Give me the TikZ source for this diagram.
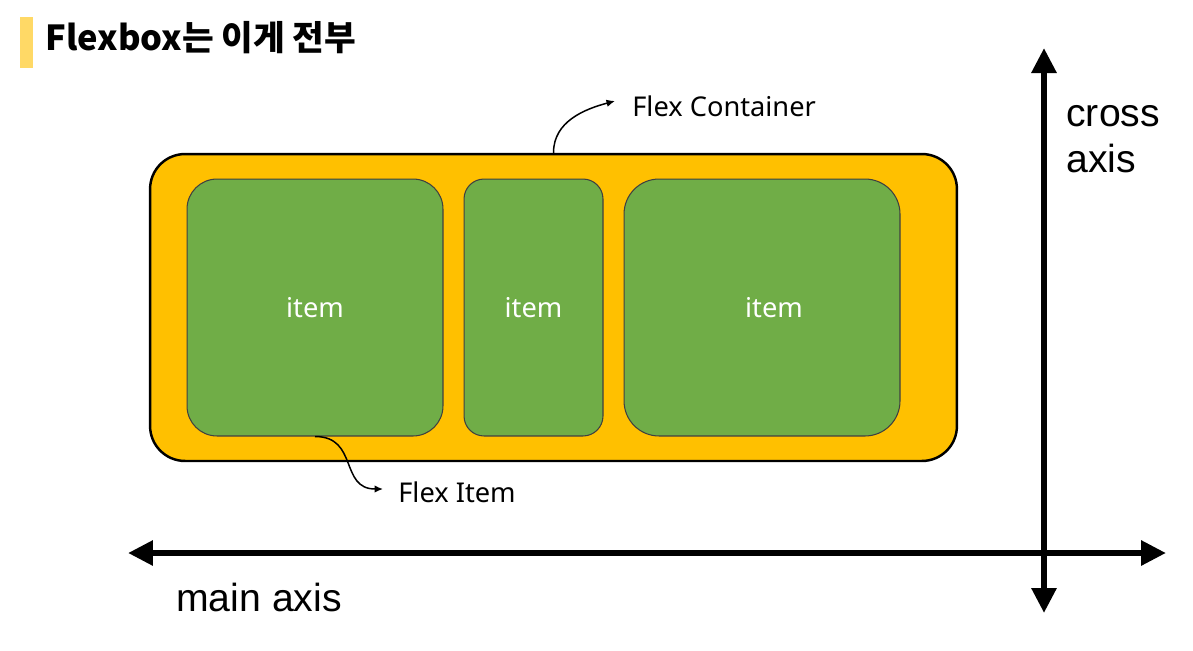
\documentclass[tikz,border=0pt]{standalone}
\usepackage{fontspec}
\newfontfamily\krfont{Noto Sans CJK KR}
\newfontfamily\labelfont{Noto Sans}
\newfontfamily\axisfont{Liberation Sans}
\usepackage{xcolor}
\usepackage{tikz}
\usetikzlibrary{arrows.meta,positioning}

\definecolor{flexorange}{HTML}{FFC000}
\definecolor{itemgreen}{HTML}{70AD47}
\definecolor{titlebar}{HTML}{FFD966}

\tikzset{
  flexbox/.style={draw=black, line width=1.4pt, fill=flexorange, rounded corners=0.7cm,
    minimum width=16.14cm, minimum height=6.14cm},
  flexitem/.style={draw=black!75, line width=0.6pt, fill=itemgreen, minimum height=5.14cm,
    text=white, font=\labelfont\fontsize{15.5}{18}\selectfont},
  callout/.style={line width=0.85pt, -{Latex[length=0.17cm,width=0.15cm]}},
  calloutlabel/.style={anchor=west, inner sep=0pt, font=\labelfont\fontsize{15.5}{18}\selectfont},
  axisarrow/.style={line width=3.4pt,
    {Triangle[length=0.5cm,width=0.48cm]}-{Triangle[length=0.5cm,width=0.48cm]}},
  axislabel/.style={inner sep=0pt, align=left, font=\axisfont\fontsize{22.3}{26}\selectfont}
}

\begin{document}
\begin{tikzpicture}[x=0.02cm,y=-0.02cm]

\useasboundingbox (0,0) rectangle (1193,650);

% title
\fill[titlebar] (20,17) rectangle (33,68);
\node[anchor=base west, inner sep=0pt, font=\krfont\bfseries\fontsize{19.6}{23}\selectfont] (title) at (45,50) {Flexbox는 이게 전부};

% container and items
\node[flexbox] (container) at (553.5,307.5) {};

\node[flexitem, minimum width=5.12cm, rounded corners=0.6cm] (item1) at (315,307.5) {item};
\node[flexitem, minimum width=2.78cm, rounded corners=0.4cm, right=0.4cm of item1] (item2) {item};
\node[flexitem, minimum width=5.52cm, rounded corners=0.7cm, right=0.4cm of item2] (item3) {\hspace{0.48cm}item};

% callouts
\node[calloutlabel] (fclabel) at (632,106) {Flex Container};
\node[calloutlabel] (filabel) at (398,492) {Flex Item};

\draw[callout] (container.north) to[out=90,in=195] ([xshift=-0.34cm,yshift=0.1cm]fclabel.west);
\draw[callout] (item1.south) to[out=0,in=180,looseness=1.3] ([xshift=-0.3cm,yshift=0.06cm]filabel.west);

% axes
\coordinate (mainstart) at (128,553);
\coordinate (mainend) at (1166,553);
\coordinate (crossstart) at (1044,613);
\coordinate (crossend) at (1044,48);

\draw[axisarrow] (mainstart) -- (mainend);
\draw[axisarrow] (crossstart) -- (crossend);

\node[axislabel, anchor=base west] (mainlabel) at (176,611) {main axis};
\node[axislabel, anchor=north west] (crosslabel) at (1066,105) {cross\\axis};

\end{tikzpicture}
\end{document}
